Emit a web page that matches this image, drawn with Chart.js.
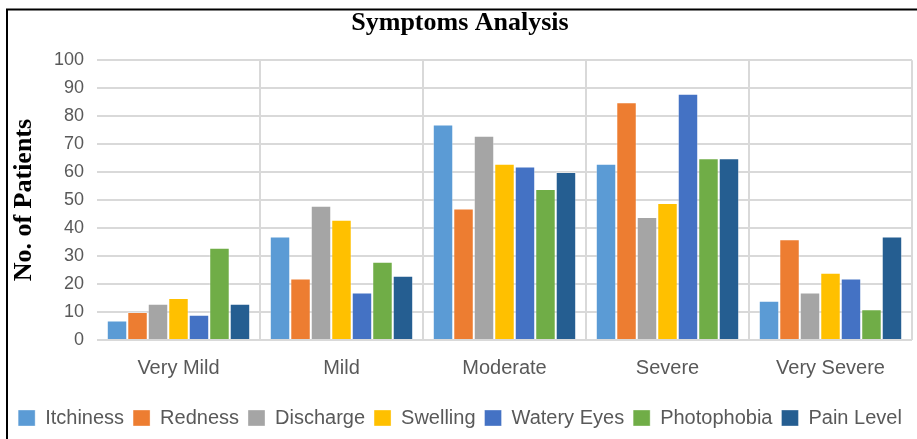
<!DOCTYPE html>
<html lang="en">
<head>
    <meta charset="UTF-8">
    <title>Symptoms Analysis</title>
    <script src="https://cdn.jsdelivr.net/npm/chart.js"></script>
    <style>
        body {
            margin: 0;
            background: #fff;
        }

        #wrap {
            width: 917px;
            height: 439px;
        }
    </style>
</head>
<body>
    <div id="wrap"><canvas id="myChart"></canvas></div>
    <script>
        const categories = ['Very Mild', 'Mild', 'Moderate', 'Severe', 'Very Severe'];
        const seriesNames = ['Itchiness', 'Redness', 'Discharge', 'Swelling', 'Watery Eyes', 'Photophobia', 'Pain Level'];
        const itchiness = [7, 37, 77, 63, 14];
        const redness = [10, 22, 47, 85, 36];
        const discharge = [13, 48, 73, 44, 17];
        const swelling = [15, 43, 63, 49, 24];
        const wateryEyes = [9, 17, 62, 88, 22];
        const photophobia = [33, 28, 54, 65, 11];
        const painLevel = [13, 23, 60, 65, 37];
        const colors = ['#5B9BD5', '#ED7D31', '#A5A5A5', '#FFC000', '#4472C4', '#70AD47', '#255E91'];

        const values = [itchiness, redness, discharge, swelling, wateryEyes, photophobia, painLevel];

        // frame lines round the figure (left and top only, like the scan)
        const framePlugin = {
            id: 'frame',
            afterDraw(chart) {
                const c = chart.ctx;
                c.save();
                c.strokeStyle = '#000';
                c.lineWidth = 2;
                c.beginPath();
                c.moveTo(7, 439);
                c.lineTo(7, 9.5);
                c.lineTo(917, 9.5);
                c.stroke();
                c.restore();
            }
        };

        const ctx = document.getElementById('myChart').getContext('2d');
        new Chart(ctx, {
            type: 'bar',
            data: {
                labels: categories,
                datasets: seriesNames.map((name, i) => ({
                    label: name,
                    data: values[i],
                    backgroundColor: colors[i],
                    borderColor: 'rgba(255,255,255,0.35)',
                    borderWidth: 1,
                    categoryPercentage: 0.88,
                    barPercentage: 1
                }))
            },
            options: {
                responsive: true,
                maintainAspectRatio: false,
                animation: false,
                layout: {
                    padding: { left: 8, right: 5, top: 0, bottom: 1 }
                },
                plugins: {
                    title: {
                        display: true,
                        text: 'Symptoms Analysis',
                        color: '#000',
                        font: { family: 'Liberation Serif', size: 26, weight: 'bold' },
                        padding: { top: 8, bottom: 21 }
                    },
                    legend: {
                        position: 'bottom',
                        labels: {
                            color: '#595959',
                            font: { family: 'Liberation Sans', size: 20 },
                            boxWidth: 17,
                            boxHeight: 16,
                            padding: 9
                        }
                    },
                    tooltip: { enabled: false }
                },
                scales: {
                    x: {
                        afterFit(scale) { scale.height = 59; },
                        grid: {
                            color: (c) => (c.index === 0 || c.index === categories.length) ? 'rgba(0,0,0,0)' : '#d9d9d9',
                            lineWidth: 2,
                            drawTicks: false
                        },
                        border: { display: false },
                        ticks: {
                            color: '#595959',
                            font: { family: 'Liberation Sans', size: 20 },
                            padding: 16
                        }
                    },
                    y: {
                        min: 0,
                        max: 100,
                        afterFit(scale) { scale.width = 89; },
                        grid: {
                            color: '#d9d9d9',
                            lineWidth: 2,
                            drawTicks: false
                        },
                        border: { display: false },
                        ticks: {
                            stepSize: 10,
                            color: '#595959',
                            font: { family: 'Liberation Sans', size: 18 },
                            padding: 13
                        },
                        title: {
                            display: true,
                            text: 'No. of Patients',
                            color: '#000',
                            font: { family: 'Liberation Serif', size: 26, weight: 'bold' },
                            padding: { top: 1, bottom: 0 }
                        }
                    }
                }
            },
            plugins: [framePlugin]
        });
    </script>
</body>
</html>
